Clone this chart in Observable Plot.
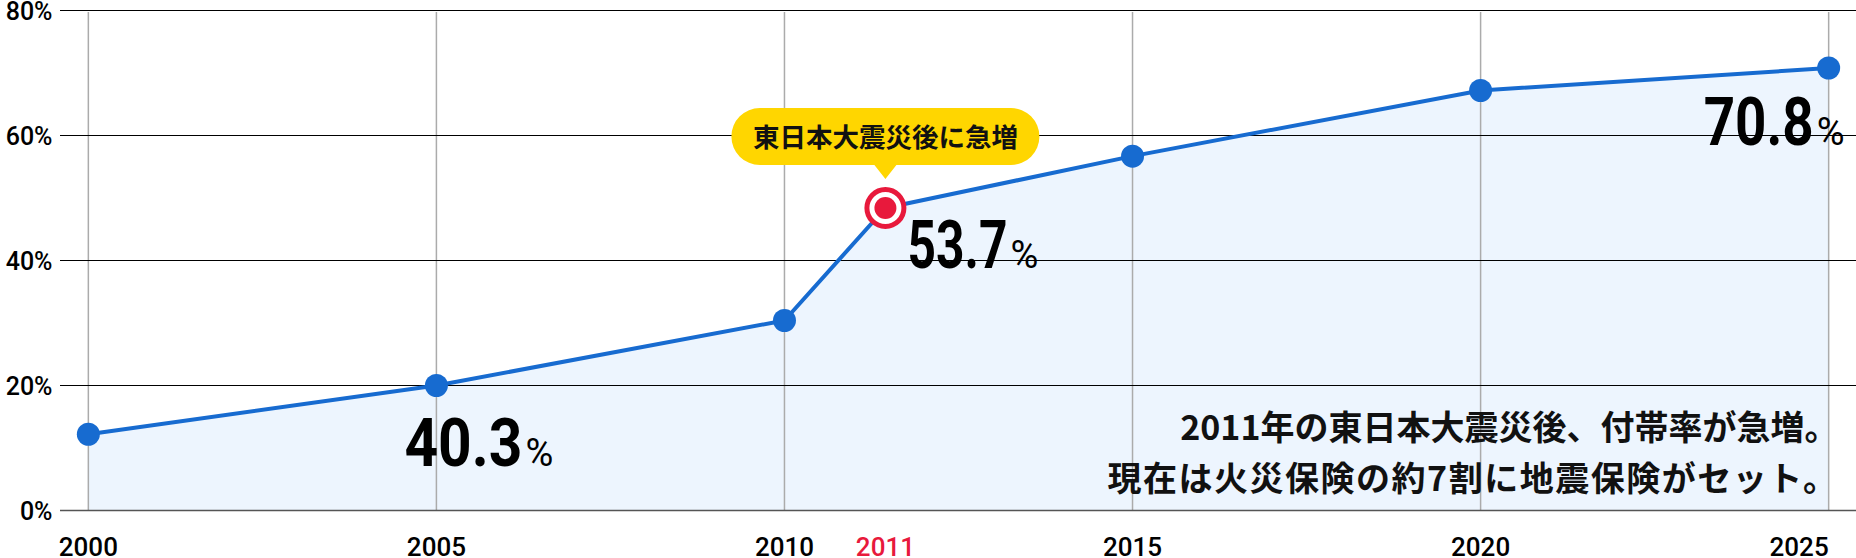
<!DOCTYPE html>
<html>
<head>
<meta charset="utf-8">
<script src="https://cdn.jsdelivr.net/npm/d3@7"></script>
<script src="https://cdn.jsdelivr.net/npm/@observablehq/plot@0.6"></script>
<style>
  html, body { margin: 0; padding: 0; background: #fff; }
  #chart svg { display: block; }
</style>
</head>
<body>
<div id="chart"></div>
<script>
// ---- data ----
const years = [2000, 2005, 2010, 2011.45, 2015, 2020, 2025];
const rates = [12.2, 20.0, 30.4, 48.4, 56.7, 67.2, 70.8];
const gridYears = [2000, 2005, 2010, 2015, 2020, 2025];
const yTicks = [0, 20, 40, 60, 80];
const xTickLabels = ["2000", "2005", "2010", "2015", "2020", "2025"];
const highlightYear = 2011.45;
const highlightLabel = "2011";
const highlightRate = 48.4;
const calloutText = "東日本大震災後に急増";
const bigLabels = ["40.3", "53.7", "70.8"];
const bigLabelYears = [2005, 2011.45, 2025];
const bigLabelRates = [20.0, 48.4, 70.8];
const noteLines = ["2011年の東日本大震災後、付帯率が急増。", "現在は火災保険の約7割に地震保険がセット。"];

const blue = "#176BD0";
const red = "#E8193C";
const yellow = "#FFD600";
const numFont = "Roboto, sans-serif";
const jpFont = "'Noto Sans CJK JP', sans-serif";

const series = years.map((x, i) => ({x, y: rates[i]}));
const normal = series.filter(d => d.x !== highlightYear);
const hi = [{x: highlightYear, y: highlightRate}];
const xLabels = gridYears.map((x, i) => ({x, t: xTickLabels[i]}));
const xLabelsMid = xLabels.slice(0, -1);
const xLabelLast = xLabels.slice(-1);

// callout bubble shape (pill + pointer) drawn relative to the highlighted point
const calloutSymbol = {
  draw(ctx) {
    const w = 154, top = -100, bot = -43, r = 28.5;
    ctx.moveTo(-w + r, top);
    ctx.lineTo(w - r, top);
    ctx.arc(w - r, top + r, r, -Math.PI / 2, Math.PI / 2);
    ctx.lineTo(11, bot);
    ctx.lineTo(0, -29);
    ctx.lineTo(-11, bot);
    ctx.lineTo(-w + r, bot);
    ctx.arc(-w + r, top + r, r, Math.PI / 2, 3 * Math.PI / 2);
    ctx.closePath();
  }
};

// style: offsets and condensed widths of the big value labels
const labelStyles = [
  {dx: -32, dy: 80, w: 118},
  {dx: 22, dy: 60, w: 100},
  {dx: -125, dy: 77, w: 110}
];
const bigLabelMarks = bigLabels.map((t, i) => {
  const d = [{x: bigLabelYears[i], y: bigLabelRates[i]}];
  const o = labelStyles[i];
  return Plot.text(d, {x: "x", y: "y", text: () => t, dx: o.dx, dy: o.dy, textAnchor: "start", lineAnchor: "bottom",
    fontSize: 66, fontWeight: 700, fontFamily: numFont, fill: "#000"});
});

const chart = Plot.plot({
  width: 1856,
  height: 558,
  marginLeft: 60,
  marginRight: 0,
  marginTop: 10,
  marginBottom: 48,
  style: {fontFamily: "Roboto, sans-serif", background: "#fff", overflow: "visible"},
  x: {domain: [1999.6, 2025.4], axis: null},
  y: {domain: [0, 80], axis: null},
  marks: [
    Plot.areaY(series, {x: "x", y: "y", fill: "#EDF5FE"}),
    Plot.ruleX(gridYears, {y1: 0, y2: 79.7, stroke: "#ABABAB", strokeWidth: 1.5}),
    Plot.ruleY(yTicks.filter(d => d > 0), {stroke: "#000", strokeWidth: 1.2}),
    Plot.ruleY([0], {stroke: "#555", strokeWidth: 1.5}),
    Plot.line(series, {x: "x", y: "y", stroke: blue, strokeWidth: 4}),
    Plot.dot(normal, {x: "x", y: "y", r: 11.5, fill: blue}),
    Plot.dot(hi, {x: "x", y: "y", r: 18.5, fill: "#fff", stroke: red, strokeWidth: 5}),
    Plot.dot(hi, {x: "x", y: "y", r: 11, fill: red}),
    Plot.dot(hi, {x: "x", y: "y", r: 1, symbol: calloutSymbol, fill: yellow, stroke: "none"}),
    Plot.text(hi, {x: "x", y: "y", text: () => calloutText, dy: -69, fontSize: 26.5, fontWeight: 700,
      fontFamily: jpFont, fill: "#111"}),
    ...bigLabelMarks,
    Plot.text([noteLines.join("\n")], {frameAnchor: "bottom-right", dx: -18, dy: -20, lineAnchor: "bottom",
      textAnchor: "end", lineHeight: 1.5, fontSize: 34, fontWeight: 700, fontFamily: jpFont, fill: "#111"}),
    // y axis labels
    Plot.text(yTicks, {x: 1999.6, y: d => d, text: d => d + "%", dx: -8, dy: 1, textAnchor: "end",
      fontSize: 25, fontWeight: 500, fill: "#000"}),
    // x axis labels
    Plot.text(xLabelsMid, {x: "x", frameAnchor: "bottom", text: "t", dy: 45, lineAnchor: "bottom",
      fontSize: 26, fontWeight: 500, fill: "#000"}),
    Plot.text(xLabelLast, {x: "x", frameAnchor: "bottom", text: "t", dy: 45, lineAnchor: "bottom",
      textAnchor: "end", fontSize: 26, fontWeight: 500, fill: "#000"}),
    Plot.text([highlightLabel], {x: highlightYear, frameAnchor: "bottom", text: d => d, dy: 45, lineAnchor: "bottom",
      fontSize: 26, fontWeight: 500, fill: red})
  ]
});
document.getElementById("chart").appendChild(chart);

// condense the big value numbers and add a smaller "%" in the same text
d3.select(chart).selectAll("text").each(function () {
  const i = bigLabels.indexOf(this.textContent);
  if (i < 0) return;
  const el = d3.select(this);
  el.text(null);
  el.append("tspan").text(bigLabels[i])
    .attr("textLength", labelStyles[i].w).attr("lengthAdjust", "spacingAndGlyphs");
  el.append("tspan").text("%").attr("dx", 3).attr("font-size", 38).attr("font-weight", 400);
});
d3.select(chart).selectAll("tspan").filter(function () { return this.textContent === noteLines[1]; })
  .style("letter-spacing", "1.5px");
</script>
</body>
</html>
